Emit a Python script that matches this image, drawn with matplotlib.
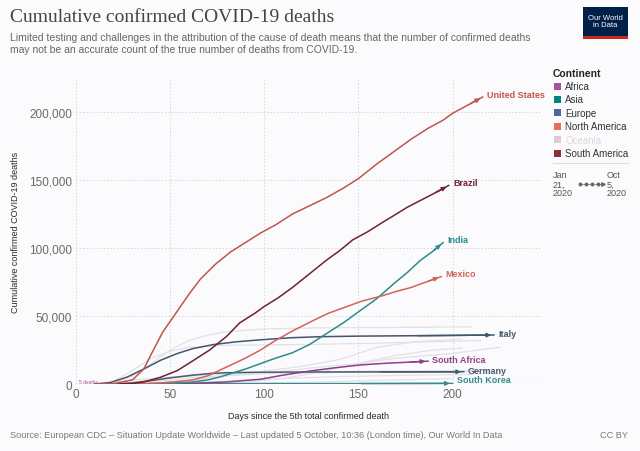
import matplotlib.pyplot as plt
from matplotlib.patches import Rectangle
from matplotlib.lines import Line2D

# highlighted countries: days since 5th death, cumulative deaths
us_days = [10, 20, 30, 36, 40, 46, 50, 54, 60, 66, 74, 82, 90, 98, 106, 115, 124, 133, 142, 150, 160, 169, 178, 187, 195, 200, 208, 216]
us_vals = [0, 300, 3000, 11000, 22000, 38000, 46000, 54000, 66000, 77000, 88000, 97000, 104000, 111000, 117000, 125000, 131000, 137000, 144000, 151000, 162000, 171000, 180000, 188000, 194000, 199000, 205000, 211000]

brazil_days = [10, 20, 30, 36, 45, 54, 62, 71, 80, 87, 95, 100, 107, 115, 124, 133, 140, 147, 155, 163, 169, 176, 183, 190, 198]
brazil_vals = [0, 0, 300, 1500, 5000, 10000, 17000, 25000, 35000, 45000, 52000, 57000, 63000, 71000, 81000, 91000, 98000, 106000, 112000, 119000, 124000, 130000, 135000, 140000, 146000]

mexico_days = [10, 30, 45, 55, 62, 70, 80, 90, 98, 106, 115, 125, 134, 142, 152, 163, 170, 178, 186, 194]
mexico_vals = [0, 100, 800, 2000, 3000, 6000, 12500, 19000, 25000, 32000, 39000, 46000, 52000, 56000, 61000, 65000, 68000, 71000, 75000, 79000]

india_days = [10, 30, 45, 55, 62, 70, 76, 83, 90, 98, 106, 115, 124, 133, 142, 151, 160, 169, 176, 183, 189, 195]
india_vals = [0, 50, 300, 800, 1500, 3000, 5000, 8000, 11000, 15000, 19000, 23000, 29000, 37000, 45000, 54000, 63000, 74000, 82000, 91000, 97000, 104000]

italy_days = [10, 18, 27, 36, 45, 54, 62, 73, 85, 98, 114, 130, 150, 180, 222]
italy_vals = [0, 1000, 5000, 11000, 17500, 22500, 26000, 29000, 31000, 32500, 34000, 34800, 35200, 35500, 36000]

germany_days = [10, 20, 30, 40, 50, 62, 72, 80, 95, 120, 160, 206]
germany_vals = [0, 100, 800, 2500, 4500, 6500, 7800, 8300, 8600, 8800, 8900, 9000]

safrica_days = [15, 40, 60, 80, 98, 110, 124, 138, 151, 165, 176, 187]
safrica_vals = [0, 100, 400, 1500, 3500, 6500, 9500, 12000, 14000, 15300, 16000, 16800]

skorea_days = [10, 30, 60, 100, 150, 200]
skorea_vals = [0, 150, 250, 280, 310, 420]

# faded background countries
faint_days = [
    [10, 20, 30, 40, 50, 60, 70, 80, 100, 130, 170, 210],
    [10, 20, 30, 40, 50, 60, 80, 120, 160, 215],
    [10, 40, 60, 80, 100, 120, 140, 160, 180, 205],
    [10, 30, 50, 70, 90, 110, 130, 150, 170, 200, 225],
    [10, 60, 90, 110, 130, 150, 170, 190, 205],
    [10, 25, 40, 60, 100, 160, 220],
    [10, 25, 40, 60, 100, 160, 215],
    [10, 40, 70, 100, 140, 180, 210],
    [10, 50, 90, 130, 170, 200],
]
faint_vals = [
    [0, 1000, 6000, 15000, 25000, 32000, 36000, 38500, 40500, 41300, 41600, 42000],
    [0, 2000, 10000, 19000, 24000, 27000, 28500, 29000, 30000, 32000],
    [0, 300, 2500, 6000, 9500, 13000, 18000, 27000, 31000, 33000],
    [0, 3000, 5000, 6500, 7800, 9500, 12500, 15000, 19000, 22500, 27000],
    [0, 500, 1500, 4000, 9000, 15000, 21000, 25000, 26500],
    [0, 500, 3000, 6500, 8500, 9500, 10000],
    [0, 300, 1500, 4500, 7500, 9000, 9500],
    [0, 200, 1500, 3500, 5500, 6500, 7000],
    [0, 100, 600, 1500, 3000, 4000],
]

legend_names = ['Africa', 'Asia', 'Europe', 'North America', 'Oceania', 'South America']
legend_colors = ['#a2559c', '#00847e', '#4c6a9c', '#e56e5a', '#d9cdd6', '#883039']

plt.rcParams['font.family'] = ['Liberation Sans', 'DejaVu Sans']

fig = plt.figure(figsize=(6.4, 4.52), dpi=100)
fig.patch.set_facecolor('#fbfbfd')
ax = fig.add_axes([76 / 640, 1 - 385 / 452, (541 - 76) / 640, (385 - 79) / 452])
ax.set_facecolor('#fbfbfd')

for d, v in zip(faint_days, faint_vals):
    ax.plot(d, v, color='#e2e2e6', lw=0.9, zorder=1)

series = [
    (skorea_days, skorea_vals, '#3a8a8e', 'South Korea'),
    (germany_days, germany_vals, '#4a5a70', 'Germany'),
    (safrica_days, safrica_vals, '#8e3f87', 'South Africa'),
    (italy_days, italy_vals, '#44566c', 'Italy'),
    (india_days, india_vals, '#2a8c8c', 'India'),
    (mexico_days, mexico_vals, '#d0645a', 'Mexico'),
    (brazil_days, brazil_vals, '#6e2232', 'Brazil'),
    (us_days, us_vals, '#c0554f', 'United States'),
]
label_offsets = {
    'United States': (3, 2), 'Brazil': (3, 2), 'India': (3, 2), 'Mexico': (3, 2),
    'Italy': (3, 1), 'South Africa': (3, 1), 'Germany': (3, 1), 'South Korea': (3, 3),
}
for d, v, c, name in series:
    ax.plot(d, v, color=c, lw=1.1, zorder=3)
    ax.annotate('', xy=(d[-1], v[-1]), xytext=(d[-2], v[-2]),
                arrowprops=dict(arrowstyle='-|>', color=c, lw=1.1, mutation_scale=6), zorder=3)
    dx, dy = label_offsets[name]
    ax.annotate(name, xy=(d[-1], v[-1]), xytext=(dx, dy), textcoords='offset points',
                color=c, fontsize=6.5, fontweight='bold', va='center', ha='left')

ax.text(1.5, 1500, '5 deaths', color='#a2559c', fontsize=3.5, va='center')

ax.set_xlim(0, 247)
ax.set_ylim(0, 225000)
ax.set_xticks([0, 50, 100, 150, 200])
ax.set_yticks([0, 50000, 100000, 150000, 200000])
ax.set_yticklabels(['0', '50,000', '100,000', '150,000', '200,000'])
ax.tick_params(length=0, labelsize=8.5, labelcolor='#6a6a6a', pad=3)
ax.grid(True, color='#d6d6d6', linestyle=(0, (1.5, 2)), lw=0.7)
for s in ax.spines.values():
    s.set_visible(False)
ax.axhline(0, color='#cccccc', lw=0.8, zorder=0)
ax.set_xlabel('Days since the 5th total confirmed death', fontsize=6.5, color='#2a2a2a', labelpad=8)
ax.set_ylabel('Cumulative confirmed COVID-19 deaths', fontsize=6.5, color='#2a2a2a', labelpad=6)

# header
fig.text(10 / 640, 1 - 18 / 452, 'Cumulative confirmed COVID-19 deaths', family='Liberation Serif',
         fontsize=14, color='#444444', va='center')
fig.text(10 / 640, 1 - 44 / 452,
         'Limited testing and challenges in the attribution of the cause of death means that the number of confirmed deaths\n'
         'may not be an accurate count of the true number of deaths from COVID-19.',
         fontsize=7.5, color='#666666', va='center', linespacing=1.2)

# logo
fig.patches.append(Rectangle((583 / 640, 1 - 38 / 452), 45 / 640, 30 / 452, transform=fig.transFigure,
                             facecolor='#002147', edgecolor='none'))
fig.patches.append(Rectangle((583 / 640, 1 - 40 / 452), 45 / 640, 3 / 452, transform=fig.transFigure,
                             facecolor='#ce261e', edgecolor='none'))
fig.text(605.5 / 640, 1 - 22 / 452, 'Our World\nin Data', fontsize=5.5, color='white',
         ha='center', va='center', linespacing=1.0)

# legend
fig.text(553 / 640, 1 - 74 / 452, 'Continent', fontsize=7.5, fontweight='bold', color='#222222', va='center')
for i, (n, c) in enumerate(zip(legend_names, legend_colors)):
    y = 87 + i * 13.4
    fig.patches.append(Rectangle((554 / 640, 1 - (y + 3.5) / 452), 7 / 640, 7 / 452,
                                 transform=fig.transFigure, facecolor=c, edgecolor='none'))
    tc = '#e0d5dc' if n == 'Oceania' else '#333333'
    fig.text(565 / 640, 1 - y / 452, n, fontsize=7, color=tc, va='center')

fig.add_artist(Line2D([553 / 640, 628 / 640], [1 - 164 / 452, 1 - 164 / 452], transform=fig.transFigure,
                      color='#dddddd', lw=0.8))
fig.text(553 / 640, 1 - 185 / 452, 'Jan\n21,\n2020', fontsize=6.5, color='#555555', va='center', linespacing=1.0)
fig.text(607 / 640, 1 - 185 / 452, 'Oct\n5,\n2020', fontsize=6.5, color='#555555', va='center', linespacing=1.0)
fig.add_artist(Line2D([580 / 640, 603 / 640], [1 - 185 / 452, 1 - 185 / 452], transform=fig.transFigure,
                      color='#777777', lw=0.5))
fig.add_artist(Line2D([580 / 640, 586 / 640, 592 / 640, 598 / 640], [1 - 185 / 452] * 4,
                      transform=fig.transFigure, color='#666666', lw=0, marker='o', markersize=1.8))
fig.add_artist(Line2D([603 / 640], [1 - 185 / 452], transform=fig.transFigure,
                      color='#666666', lw=0, marker='>', markersize=2.5))

# footer
fig.text(10 / 640, 1 - 436 / 452,
         'Source: European CDC – Situation Update Worldwide – Last updated 5 October, 10:36 (London time), Our World In Data',
         fontsize=6.6, color='#777777', va='center')
fig.text(628 / 640, 1 - 436 / 452, 'CC BY', fontsize=6.6, color='#777777', va='center', ha='right')

fig.savefig('out.png', dpi=100, facecolor=fig.get_facecolor())
